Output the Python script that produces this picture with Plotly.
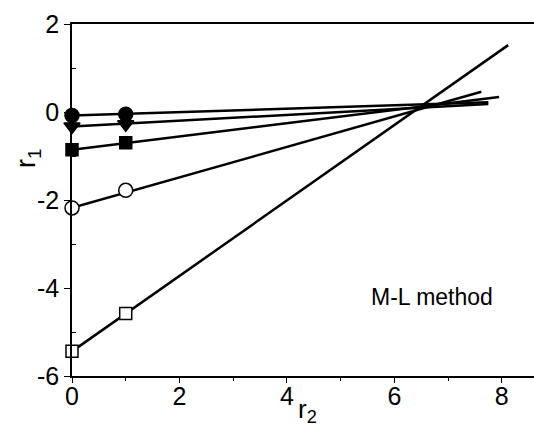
import plotly.graph_objects as go

# measured points (r2, r1)
r2_points = [0, 1]
r1_filled_circle = [-0.08, -0.05]
r1_filled_triangle = [-0.33, -0.28]
r1_filled_square = [-0.86, -0.70]
r1_open_circle = [-2.18, -1.78]
r1_open_square = [-5.44, -4.58]

# fitted line end points (r2 start/end, r1 start/end) per series
line_r2_end = [7.75, 7.75, 7.95, 7.62, 8.12]
line_r1_start = [-0.08, -0.33, -0.86, -2.18, -5.44]
line_r1_end = [0.22, 0.18, 0.34, 0.46, 1.52]

x_ticks = [0, 2, 4, 6, 8]
y_ticks = [-6, -4, -2, 0, 2]
y_tick_labels = ["-6", "-4", "-2", "0", "2"]

series = [
    (r1_filled_circle, "circle", False),
    (r1_filled_triangle, "triangle-down", False),
    (r1_filled_square, "square", False),
    (r1_open_circle, "circle", True),
    (r1_open_square, "square", True),
]

fig = go.Figure()
for i in range(len(series)):
    fig.add_trace(go.Scatter(
        x=[0, line_r2_end[i]], y=[line_r1_start[i], line_r1_end[i]],
        mode="lines", line=dict(color="black", width=2.5),
        showlegend=False, hoverinfo="skip"))
for ys, sym, is_open in series:
    fig.add_trace(go.Scatter(
        x=r2_points, y=ys, mode="markers",
        marker=dict(symbol=sym, size=12 if sym == "square" else 14,
                    color="white" if is_open else "black",
                    line=dict(color="black", width=1.5)),
        showlegend=False, cliponaxis=False))

fam = "Liberation Sans, Arial, sans-serif"
axis_font = dict(family=fam, size=25, color="black")
fig.update_layout(
    width=534, height=431,
    margin=dict(l=72, r=0, t=24, b=55),
    plot_bgcolor="white", paper_bgcolor="white",
    font=axis_font,
    xaxis=dict(range=[0, 8.6], tickvals=x_ticks, ticktext=[str(v) for v in x_ticks],
               ticks="outside", ticklen=5, ticklabelstandoff=-8,
               tickwidth=1.2, tickcolor="black", showline=True, linecolor="black",
               linewidth=1.5, mirror=True, showgrid=False, zeroline=False,
               minor=dict(tickvals=[1, 3, 5, 7], ticks="outside", ticklen=3, tickcolor="black"),
               tickfont=axis_font),
    yaxis=dict(range=[-6, 2], tickvals=y_ticks, ticktext=y_tick_labels,
               ticks="outside", ticklen=6, tickwidth=1.2, tickcolor="black",
               showline=True, linecolor="black", linewidth=1.5, mirror=False,
               showgrid=False, zeroline=False,
               minor=dict(tickvals=[-5, -3, -1, 1], ticks="inside", ticklen=4, tickcolor="black"),
               tickfont=axis_font),
    annotations=[
        dict(text="M-L method", x=0.78, y=0.224, xref="paper", yref="paper",
             xanchor="center", yanchor="middle",
             showarrow=False, font=dict(size=23, color="black", family=fam)),
        dict(text="r<sub>2</sub>", x=0.485, y=-0.045, xref="paper", yref="paper",
             xanchor="left", yanchor="top",
             showarrow=False, font=dict(size=26, color="black", family=fam)),
        dict(text="r<sub>1</sub>", x=-0.136, y=0.62, xref="paper", yref="paper",
             xanchor="left", yanchor="middle",
             textangle=-90, showarrow=False, font=dict(size=27, color="black", family=fam)),
    ],
)
fig.write_html("out.html")
